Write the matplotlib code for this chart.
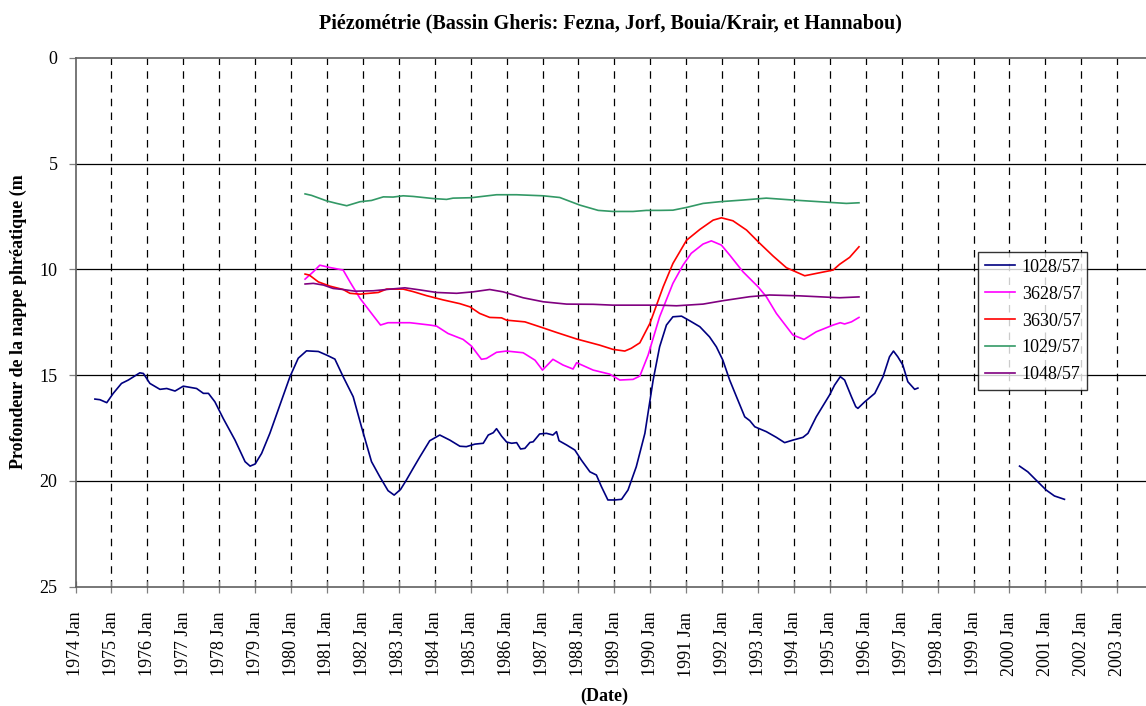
"""
Piézométrie — Bassin Gheris (Fezna, Jorf, Bouia/Krair, Hannabou)
Profondeur de la nappe (m) en fonction de la date, 5 piézomètres.
"""
import numpy as np
import matplotlib
matplotlib.use("Agg")
import matplotlib.pyplot as plt

plt.rcParams["font.family"] = ["Liberation Serif", "DejaVu Serif"]

NAN = np.nan

# ─── Données (date en années décimales, profondeur en m) ─────────────────────

dates_1028 = [1974.54, 1974.68, 1974.87, 1975.05, 1975.28, 1975.47, 1975.79, 1975.89,
              1976.07, 1976.35, 1976.54, 1976.77, 1977.00, 1977.37, 1977.56, 1977.70,
              1977.88, 1978.11, 1978.44, 1978.72, 1978.86, 1979.00, 1979.18, 1979.41,
              1979.69, 1979.97, 1980.20, 1980.43, 1980.76, 1980.99, 1981.22, 1981.45,
              1981.73, 1981.96, 1982.24, 1982.47, 1982.70, 1982.87, 1983.05, 1983.21,
              1983.40, 1983.59, 1983.86, 1984.14, 1984.42, 1984.70, 1984.88, 1985.12,
              1985.35, 1985.49, 1985.63, 1985.72, 1985.86, 1986.00, 1986.14, 1986.28,
              1986.39, 1986.51, 1986.65, 1986.74, 1986.92, 1987.11, 1987.29, 1987.39,
              1987.46, 1987.67, 1987.90, 1988.08, 1988.32, 1988.50, 1988.64, 1988.82,
              1989.01, 1989.20, 1989.38, 1989.61, 1989.85, 1990.08, 1990.26, 1990.45,
              1990.63, 1990.87, 1991.10, 1991.38, 1991.65, 1991.84, 1992.02, 1992.21,
              1992.40, 1992.63, 1992.77, 1992.91, 1993.23, 1993.51, 1993.74, 1993.97,
              1994.25, 1994.39, 1994.62, 1994.99, 1995.13, 1995.29, 1995.41, 1995.60,
              1995.72, 1995.78, 1995.97, 1996.25, 1996.48, 1996.66, 1996.77, 1996.89,
              1997.03, 1997.17, 1997.36, 1997.45, 1998.50,
              2000.28, 2000.51, 2000.74, 2001.02, 2001.25, 2001.53]
prof_1028 = [16.13, 16.16, 16.30, 15.86, 15.39, 15.23, 14.89, 14.92,
             15.39, 15.67, 15.63, 15.75, 15.52, 15.63, 15.86, 15.86,
             16.26, 17.04, 18.07, 19.09, 19.30, 19.20, 18.70, 17.75,
             16.41, 15.07, 14.20, 13.85, 13.88, 14.05, 14.24, 15.07,
             16.02, 17.44, 19.09, 19.80, 20.46, 20.67, 20.40, 19.96,
             19.40, 18.85, 18.10, 17.83, 18.07, 18.36, 18.38, 18.26,
             18.22, 17.83, 17.72, 17.53, 17.88, 18.16, 18.22, 18.19,
             18.49, 18.46, 18.18, 18.15, 17.78, 17.75, 17.83, 17.67,
             18.10, 18.30, 18.54, 19.01, 19.57, 19.72, 20.27, 20.90,
             20.90, 20.87, 20.43, 19.33, 17.75, 15.23, 13.66, 12.63,
             12.24, 12.21, 12.43, 12.71, 13.19, 13.66, 14.29, 15.23,
             16.02, 16.97, 17.15, 17.44, 17.67, 17.94, 18.19, 18.07,
             17.94, 17.75, 16.97, 15.94, 15.47, 15.07, 15.23, 16.02,
             16.49, 16.57, 16.26, 15.86, 15.07, 14.13, 13.86, 14.13,
             14.52, 15.31, 15.67, 15.61, NAN,
             19.30, 19.57, 19.96, 20.43, 20.71, 20.87]

dates_3628 = [1980.39, 1980.62, 1980.80, 1981.08, 1981.45, 1981.64, 1981.92, 1982.24,
              1982.49, 1982.70, 1983.31, 1983.86, 1984.05, 1984.37, 1984.79, 1985.02,
              1985.30, 1985.44, 1985.72, 1986.00, 1986.46, 1986.79, 1987.00, 1987.29,
              1987.57, 1987.85, 1987.95, 1988.41, 1988.87, 1989.15, 1989.52, 1989.71,
              1989.94, 1990.26, 1990.63, 1990.91, 1991.14, 1991.47, 1991.70, 1991.98,
              1992.21, 1992.58, 1993.00, 1993.23, 1993.51, 1993.97, 1994.28, 1994.62,
              1995.09, 1995.29, 1995.41, 1995.60, 1995.81]
prof_3628 = [10.46, 10.11, 9.80, 9.91, 10.03, 10.59, 11.37, 12.08,
             12.63, 12.52, 12.52, 12.63, 12.68, 13.03, 13.31, 13.62,
             14.25, 14.21, 13.92, 13.86, 13.94, 14.29, 14.76, 14.25,
             14.52, 14.71, 14.41, 14.76, 14.95, 15.23, 15.20, 15.04,
             14.05, 12.24, 10.66, 9.80, 9.24, 8.80, 8.65, 8.85,
             9.32, 10.11, 10.82, 11.29, 12.08, 13.10, 13.31, 12.95,
             12.63, 12.52, 12.58, 12.48, 12.27]

dates_3630 = [1980.39, 1980.51, 1980.76, 1981.08, 1981.45, 1981.64, 1981.92, 1982.43,
              1982.66, 1983.12, 1983.40, 1983.77, 1984.23, 1984.70, 1984.98, 1985.25,
              1985.53, 1985.86, 1986.00, 1986.51, 1986.92, 1987.39, 1987.95, 1988.59,
              1988.96, 1989.29, 1989.47, 1989.71, 1989.99, 1990.36, 1990.63, 1991.01,
              1991.38, 1991.75, 1991.98, 1992.30, 1992.68, 1993.05, 1993.42, 1993.79,
              1994.30, 1994.62, 1995.09, 1995.27, 1995.55, 1995.81]
prof_3630 = [10.22, 10.27, 10.59, 10.79, 10.95, 11.13, 11.17, 11.09,
             10.93, 10.93, 11.05, 11.24, 11.44, 11.62, 11.77, 12.08,
             12.27, 12.29, 12.40, 12.48, 12.71, 12.98, 13.29, 13.58,
             13.78, 13.86, 13.73, 13.47, 12.55, 10.82, 9.72, 8.62,
             8.11, 7.67, 7.56, 7.70, 8.14, 8.77, 9.37, 9.92,
             10.30, 10.19, 10.03, 9.76, 9.43, 8.93]

dates_1029 = [1980.39, 1980.57, 1980.99, 1981.27, 1981.55, 1981.92, 1982.24, 1982.57,
              1982.84, 1983.12, 1983.40, 1983.96, 1984.33, 1984.51, 1985.02, 1985.72,
              1986.28, 1987.02, 1987.48, 1988.04, 1988.55, 1988.96, 1989.52, 1989.89,
              1990.26, 1990.63, 1991.01, 1991.47, 1991.93, 1992.58, 1993.23, 1993.97,
              1994.99, 1995.46, 1995.81]
prof_1029 = [6.43, 6.50, 6.76, 6.88, 6.99, 6.80, 6.74, 6.57,
             6.58, 6.52, 6.55, 6.65, 6.69, 6.63, 6.61, 6.47,
             6.47, 6.52, 6.60, 6.96, 7.21, 7.26, 7.26, 7.21,
             7.21, 7.20, 7.07, 6.88, 6.80, 6.72, 6.63, 6.72,
             6.83, 6.88, 6.85]

dates_1048 = [1980.39, 1980.62, 1980.90, 1981.17, 1981.45, 1981.78, 1982.29, 1982.84,
              1983.17, 1983.59, 1984.05, 1984.61, 1985.07, 1985.53, 1985.90, 1986.46,
              1987.02, 1987.67, 1988.41, 1988.96, 1989.52, 1990.26, 1990.73, 1991.47,
              1992.02, 1992.77, 1993.32, 1994.16, 1995.27, 1995.81]
prof_1048 = [10.69, 10.66, 10.74, 10.90, 10.95, 11.03, 11.01, 10.92,
             10.87, 10.97, 11.09, 11.13, 11.06, 10.95, 11.06, 11.34,
             11.53, 11.64, 11.65, 11.69, 11.69, 11.69, 11.72, 11.64,
             11.48, 11.29, 11.21, 11.25, 11.34, 11.30]

SERIES = [
    ("1028/57", dates_1028, prof_1028, "#000080"),
    ("3628/57", dates_3628, prof_3628, "#FF00FF"),
    ("3630/57", dates_3630, prof_3630, "#FF0000"),
    ("1029/57", dates_1029, prof_1029, "#339966"),
    ("1048/57", dates_1048, prof_1048, "#800080"),
]

years = list(range(1974, 2004))
year_labels = [f"{y} Jan" for y in years]
depth_ticks = [0, 5, 10, 15, 20, 25]


# ─── Figure ─────────────────────────────────────────────────────────────────

fig = plt.figure(figsize=(11.46, 7.06), dpi=100)
ax = fig.add_axes([0.0659, 0.169, 0.9341, 0.749])

for name, d, p, c in SERIES:
    ax.plot(d, p, color=c, linewidth=1.2, label=name)

ax.set_xlim(1974, 2003.8)
ax.set_ylim(25, 0)

# vertical dashed grid (each January), solid horizontal grid
ax.set_xticks(years)
ax.set_xticklabels(year_labels, rotation=90, fontsize=13)
ax.set_yticks(depth_ticks)
ax.set_yticklabels([str(t) for t in depth_ticks], fontsize=13)
for y in years[1:]:
    ax.axvline(y, color="black", linewidth=0.9, linestyle=(0, (6, 5)), zorder=0)
for t in depth_ticks[1:-1]:
    ax.axhline(t, color="black", linewidth=0.9, zorder=0)

ax.tick_params(axis="x", direction="inout", length=8, width=0.9, color="#808080", pad=14)
ax.tick_params(axis="y", direction="out", length=5, width=0.9, color="#808080", pad=8)

for side in ["left", "bottom", "top"]:
    ax.spines[side].set_color("#606060")
    ax.spines[side].set_linewidth(1.2)
ax.spines["right"].set_visible(False)

ax.set_title("Piézométrie (Bassin Gheris: Fezna, Jorf, Bouia/Krair, et Hannabou)",
             fontsize=14.5, fontweight="bold", pad=21)
fig.text(18 / 1146, 0.544, "Profondeur de la nappe phréatique (m", rotation=90,
         ha="center", va="center", fontsize=13, fontweight="bold")
fig.text(0.527, 0.002, "(Date)", ha="center", va="bottom", fontsize=13, fontweight="bold")

leg = ax.legend(loc="upper left", bbox_to_anchor=(0.8537, 0.6426),
                bbox_transform=fig.transFigure, fontsize=13, frameon=True,
                fancybox=False, handlelength=1.7, borderpad=0.35, labelspacing=0.55,
                handletextpad=0.35, borderaxespad=0)
leg.get_frame().set_edgecolor("black")
leg.get_frame().set_linewidth(1.0)

fig.savefig("out.png", dpi=100, facecolor="white")
plt.close(fig)
